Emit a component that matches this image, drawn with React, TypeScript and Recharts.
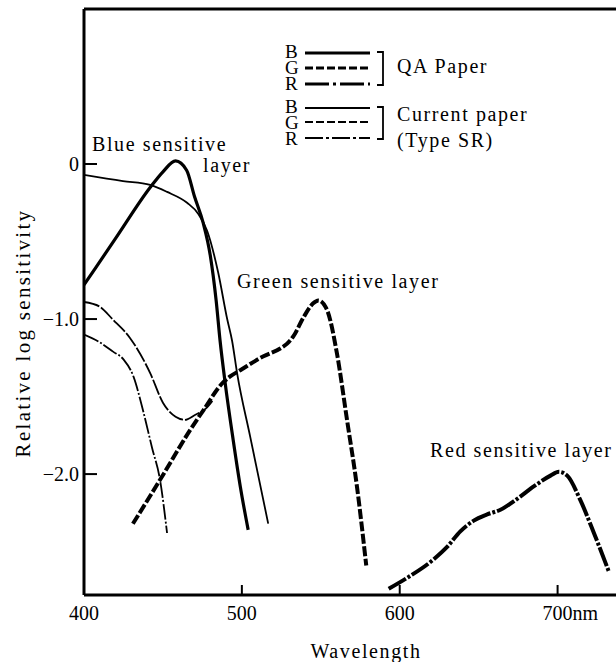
import { LineChart, Line, XAxis, YAxis, ReferenceLine } from 'recharts'

// wavelength (nm) / relative log sensitivity
const blueQaNm = [400, 420, 442, 450, 458, 465, 470, 475.5, 480, 483.7, 486.2, 489.4, 494.5, 499, 504]
const blueQaLog = [-0.78, -0.48, -0.15, -0.05, 0.02, -0.04, -0.21, -0.38, -0.59, -0.88, -1.14, -1.41, -1.78, -2.08, -2.36]

const blueCurNm = [400, 424.7, 441.9, 452.6, 465.3, 472.3, 478, 485, 490.7, 493.8, 497, 505.3, 516.7]
const blueCurLog = [-0.07, -0.11, -0.135, -0.18, -0.25, -0.32, -0.43, -0.7, -1.0, -1.14, -1.35, -1.76, -2.32]

const greenQaNm = [431, 448, 467, 475.5, 488, 492.6, 499, 513.7, 524.3, 528.5, 532.7, 539, 545, 548.5, 553.9, 560.2, 566.6, 572.9, 578.8]
const greenQaLog = [-2.32, -2.04, -1.72, -1.59, -1.41, -1.37, -1.33, -1.24, -1.19, -1.16, -1.11, -0.99, -0.9, -0.88, -0.94, -1.22, -1.65, -2.08, -2.59]

const greenCurNm = [400, 410, 418, 429, 442, 450, 458, 464, 470, 478, 482]
const greenCurLog = [-0.89, -0.92, -1.0, -1.12, -1.35, -1.54, -1.63, -1.65, -1.62, -1.57, -1.52]

const redQaNm = [593, 604.6, 621.5, 630, 638.4, 646.9, 655.4, 663.8, 674.4, 684.9, 695.5, 700.8, 706.1, 714.5, 723, 732.5]
const redQaLog = [-2.74, -2.67, -2.55, -2.47, -2.37, -2.3, -2.26, -2.23, -2.16, -2.08, -2.01, -1.985, -2.01, -2.17, -2.38, -2.63]

const redCurNm = [400, 410, 418.4, 425, 431.3, 437.4, 443.1, 448.2, 452.6]
const redCurLog = [-1.1, -1.15, -1.21, -1.26, -1.37, -1.59, -1.83, -2.04, -2.38]

const xTicks = [400, 500, 600, 700]
const yTicks = [0, -1, -2]

const FONT = "'Liberation Serif', 'Times New Roman', serif"

const pts = (nm: number[], log: number[]) => nm.map((w, i) => ({ nm: w, log: log[i] }))

const series = [
  { key: 'blueQa', data: pts(blueQaNm, blueQaLog), w: 3.2, dash: undefined },
  { key: 'blueCur', data: pts(blueCurNm, blueCurLog), w: 1.8, dash: undefined },
  { key: 'greenQa', data: pts(greenQaNm, greenQaLog), w: 4, dash: '10 2.5' },
  { key: 'greenCur', data: pts(greenCurNm, greenCurLog), w: 1.8, dash: '16 2' },
  { key: 'redQa', data: pts(redQaNm, redQaLog), w: 4, dash: '20 2 3 2' },
  { key: 'redCur', data: pts(redCurNm, redCurLog), w: 1.8, dash: '16 2 2 2' },
]

function WaveTick({ x, y, payload }: any) {
  const v = payload.value
  const last = v === 700
  return (
    <g>
      {v !== 400 && <line x1={x} y1={y} x2={x} y2={y - 10} stroke="#000" strokeWidth={2} />}
      <text x={last ? x - 15 : x} y={y + 25} textAnchor={last ? 'start' : 'middle'}
        fontFamily={FONT} fontSize={20} fill="#000">
        {last ? '700nm' : v}
      </text>
    </g>
  )
}

function LogTick({ x, y, payload }: any) {
  const v = payload.value
  const label = v === 0 ? '0' : '\u2212' + Math.abs(v).toFixed(1)
  return (
    <g>
      <line x1={x} y1={y} x2={x + 13} y2={y} stroke="#000" strokeWidth={2} />
      <text x={x - 5} y={y + 7} textAnchor="end" fontFamily={FONT} fontSize={20} fill="#000">
        {label}
      </text>
    </g>
  )
}

const txt = { fontFamily: FONT, fontSize: 20, fill: '#000', letterSpacing: 1.6 }

function Overlay() {
  const sample = (y: number, w: number, dash?: string) => (
    <line x1={305} x2={370} y1={y} y2={y} stroke="#000" strokeWidth={w} strokeDasharray={dash} />
  )
  const bracket = (y1: number, y2: number) => (
    <path d={`M377 ${y1} H383 V${y2} H377`} fill="none" stroke="#000" strokeWidth={1.8} />
  )
  // B / G / R stacked tightly like the printed key
  const letters = (y: number) => (
    <text fontFamily={FONT} fontSize={19} fill="#000">
      <tspan x={285} y={y}>B</tspan>
      <tspan x={285} y={y + 15.5}>G</tspan>
      <tspan x={285} y={y + 31.5}>R</tspan>
    </text>
  )
  return (
    <svg width={616} height={662} style={{ position: 'absolute', left: 0, top: 0, pointerEvents: 'none' }}>
      {letters(58)}
      {sample(53, 3)}
      {sample(68, 3, '8 3')}
      {sample(84, 3, '24 4 3 4')}
      {bracket(52, 85)}
      <text x={397} y={73} {...txt}>QA Paper</text>

      {letters(113)}
      {sample(108, 1.8)}
      {sample(122, 1.8, '8 3')}
      {sample(138, 1.8, '18 3 3 3')}
      {bracket(107, 139)}
      <text x={397} y={121} {...txt}>Current paper</text>
      <text x={397} y={147} {...txt}>(Type SR)</text>

      <text x={92} y={151} {...txt}>Blue sensitive</text>
      <text x={203} y={172} {...txt}>layer</text>
      <text x={237} y={288} {...txt}>Green sensitive layer</text>
      <text x={430} y={457} {...txt}>Red sensitive layer</text>

      <text x={30} y={333} transform="rotate(-90 30 333)" textAnchor="middle" {...txt}
        fontSize={21} letterSpacing={2.3}>
        Relative log sensitivity
      </text>
      <text x={366} y={658} textAnchor="middle" {...txt}>Wavelength</text>
    </svg>
  )
}

export default function App() {
  return (
    <div style={{ position: 'absolute', left: 0, top: 0, width: 616, height: 662, background: '#fff' }}>
      <LineChart width={616} height={662} margin={{ top: 9, right: 0, bottom: 0, left: 0 }}>
        <XAxis type="number" dataKey="nm" domain={[400, 737]} ticks={xTicks} allowDataOverflow
          height={67} axisLine={{ stroke: '#000', strokeWidth: 3 }} tickLine={false}
          tickSize={0} tickMargin={0} tick={<WaveTick />} interval={0} />
        <YAxis type="number" dataKey="log" domain={[-2.78, 1]} ticks={yTicks} allowDataOverflow
          width={84} axisLine={{ stroke: '#000', strokeWidth: 3 }} tickLine={false}
          tickSize={0} tickMargin={0} tick={<LogTick />} interval={0} />
        <ReferenceLine y={1} stroke="#000" strokeWidth={3} />
        {series.map((s) => (
          <Line key={s.key} data={s.data} dataKey="log" type="monotone" stroke="#000"
            strokeWidth={s.w} strokeDasharray={s.dash} dot={false} activeDot={false}
            isAnimationActive={false} />
        ))}
      </LineChart>
      <Overlay />
    </div>
  )
}
